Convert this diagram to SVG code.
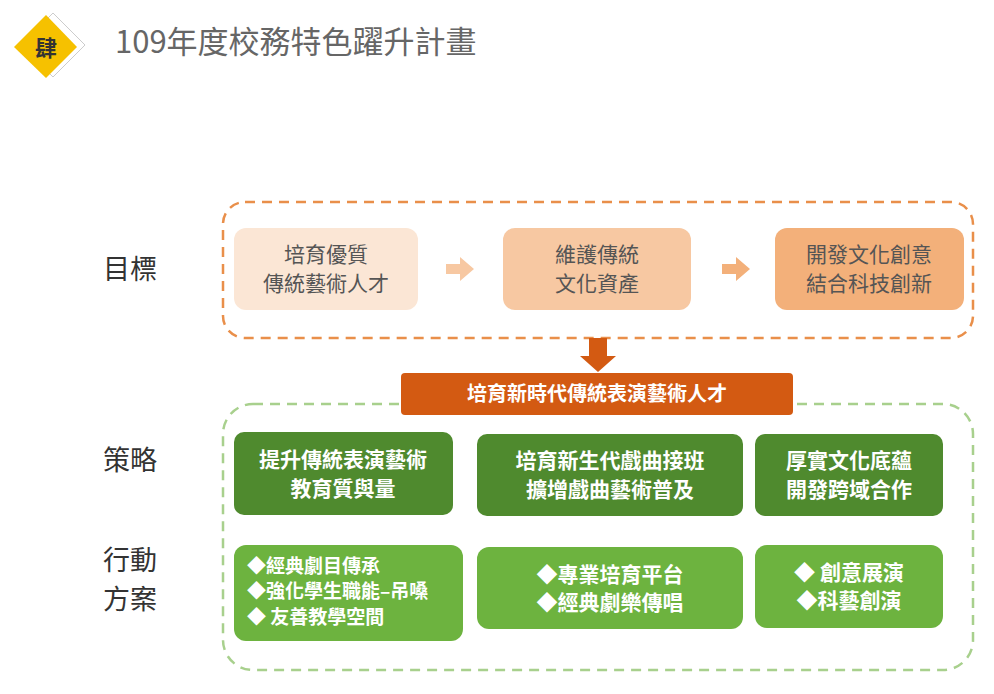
<svg xmlns="http://www.w3.org/2000/svg" width="994" height="694" viewBox="0 0 994 694">
<style>
text{font-family:"Noto Sans CJK TC","Noto Sans CJK SC",sans-serif;text-anchor:middle}
.lbl{font-size:27px;fill:#333}
.g1{fill:#fbe6d5}.g2{fill:#f7c8a2}.g3{fill:#f3b07a}
.t1{font-size:21px;fill:#555}
.dk{fill:#4f8a2e}.lt{fill:#6db33f}
.tw{font-size:21px;fill:#fff;font-weight:bold}
.tb{font-size:19px;fill:#fff;font-weight:bold;text-anchor:start}
</style>
<rect width="994" height="694" fill="#fff"/>
<g id="badge">
<polygon points="53,13 85,45 53,77 21,45" fill="#fff" stroke="#ccc"/>
<polygon points="46,15 77,47 46,78 14,47" fill="#f6c100"/>
<text x="46" y="56" style="font-size:22px;fill:#333;font-weight:bold">肆</text>
</g>
<text x="115" y="53" style="font-size:31px;fill:#666;text-anchor:start">109年度校務特色躍升計畫</text>
<g id="labels">
<text class="lbl" x="130" y="279">目標</text>
<text class="lbl" x="130" y="470">策略</text>
<text class="lbl" x="130" y="570">行動</text>
<text class="lbl" x="130" y="609">方案</text>
</g>
<rect x="223" y="202" width="750" height="136" rx="22" fill="none" stroke="#e98f4a" stroke-width="2.5" stroke-dasharray="10 7"/>
<rect x="223" y="404" width="750" height="266" rx="30" fill="none" stroke="#a8d08d" stroke-width="2.5" stroke-dasharray="10 7"/>
<g id="goal1"><rect class="g1" x="234" y="228" width="184" height="82" rx="12"/><text class="t1" x="326" y="262">培育優質</text><text class="t1" x="326" y="291">傳統藝術人才</text></g>
<g id="goal2"><rect class="g2" x="503" y="228" width="188" height="82" rx="12"/><text class="t1" x="597" y="262">維護傳統</text><text class="t1" x="597" y="291">文化資產</text></g>
<g id="goal3"><rect class="g3" x="775" y="228" width="189" height="82" rx="12"/><text class="t1" x="869" y="262">開發文化創意</text><text class="t1" x="869" y="291">結合科技創新</text></g>
<g id="connectors">
<path d="M446 264h14v-7l14 12-14 12v-7h-14z" fill="#f7c8a2"/>
<path d="M722 264h14v-7l14 12-14 12v-7h-14z" fill="#f3b07a"/>
<path d="M589 338h18v18h9l-18 16-18-16h9z" fill="#d35a12"/>
</g>
<g id="core"><rect x="401" y="373" width="392" height="42" rx="4" fill="#d35a12"/><text x="597" y="401" style="font-size:20px;fill:#fff;font-weight:bold">培育新時代傳統表演藝術人才</text></g>
<g id="s1"><rect class="dk" x="234" y="432" width="219" height="83" rx="10"/><text class="tw" x="343" y="467">提升傳統表演藝術</text><text class="tw" x="343" y="496">教育質與量</text></g>
<g id="s2"><rect class="dk" x="477" y="434" width="266" height="82" rx="10"/><text class="tw" x="610" y="468">培育新生代戲曲接班</text><text class="tw" x="610" y="497">擴增戲曲藝術普及</text></g>
<g id="s3"><rect class="dk" x="755" y="434" width="188" height="82" rx="10"/><text class="tw" x="849" y="468">厚實文化底蘊</text><text class="tw" x="849" y="497">開發跨域合作</text></g>
<g id="a1"><rect class="lt" x="234" y="545" width="229" height="96" rx="12"/>
<text class="tb" x="247" y="573">◆經典劇目傳承</text><text class="tb" x="247" y="598">◆強化學生職能–吊嗓</text><text class="tb" x="247" y="624">◆ 友善教學空間</text></g>
<g id="a2"><rect class="lt" x="477" y="547" width="266" height="82" rx="12"/>
<text class="tw" x="610" y="582">◆專業培育平台</text><text class="tw" x="610" y="610">◆經典劇樂傳唱</text></g>
<g id="a3"><rect class="lt" x="755" y="545" width="188" height="83" rx="12"/>
<text class="tw" x="849" y="580">◆ 創意展演</text><text class="tw" x="849" y="608">◆科藝創演</text></g>
</svg>
